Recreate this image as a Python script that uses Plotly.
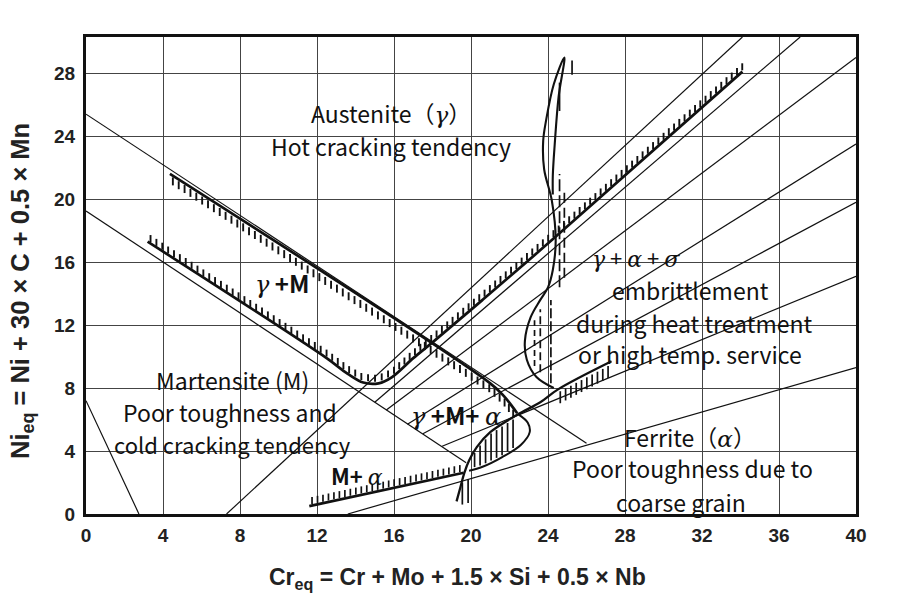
import numpy as np
import plotly.graph_objects as go

# ---------------- data ----------------
x_ticks = list(range(0, 41, 4))
y_ticks = list(range(0, 29, 4))
x_range = [0, 40]
y_range = [0, 30.3]

# iso-ferrite lines (start point -> end point)
ferrite_labels = ["0%", "5%", "10%", "20%", "40%", "80%", "100%"]
ferrite_x0 = [7.3, 15.0, 15.6, 16.7, 17.5, 18.5, 13.6]
ferrite_y0 = [0.0, 7.1, 6.6, 5.7, 5.1, 4.3, 0.0]
ferrite_x1 = [34.1, 37.1, 40.0, 40.0, 40.0, 40.0, 40.0]
ferrite_y1 = [30.3, 30.3, 29.0, 23.5, 19.8, 15.1, 9.3]
label_x = [34.4, 37.35, 41.35, 41.35, 41.35, 41.25, 41.9]
label_y = [31.4, 31.4, 28.95, 23.4, 19.75, 15.6, 9.4]

# thin martensite boundary lines
thin1_x = [0.0, 26.0]
thin1_y = [25.4, 4.5]
thin2_x = [0.0, 19.75]
thin2_y = [19.25, 3.25]
thin3_x = [0.0, 2.75]
thin3_y = [7.2, 0.0]

# hatched boundary: gamma / gamma+M (hatching below)
gm_x = [4.36, 21.0, 21.7, 22.4]
gm_y = [21.6, 8.3, 7.5, 6.4]

# hatched boundary: martensite / austenite limits (hatching above)
am_x = [3.2, 12.5, 13.6, 14.4, 15.2, 15.9, 17.0, 18.0, 20.6, 24.2, 34.1]
am_y = [17.3, 9.9, 8.9, 8.35, 8.3, 8.7, 9.9, 10.9, 13.6, 17.4, 28.1]

# hatched boundary: M+alpha (hatching above)
ma_x = [11.6, 19.62]
ma_y = [0.5, 2.62]

# ferrite boundary S-curve
s_x = [19.25, 19.45, 19.65, 19.9, 20.3, 21.0, 22.4, 23.6, 24.5, 27.3]
s_y = [0.8, 1.7, 2.6, 3.4, 4.25, 5.2, 6.3, 7.1, 7.9, 9.7]
# lower rim of the hatched lens under the S-curve
lens_x = [19.9, 20.6, 21.6, 22.6, 23.05, 22.95, 22.5]
lens_y = [2.75, 3.0, 3.6, 4.4, 5.2, 5.8, 6.3]

# sigma boundary (closed at top)
sig_x = [24.3, 23.4, 22.9, 22.8, 23.1, 23.6, 24.0, 24.25, 24.4, 24.2, 23.8, 23.75,
         23.9, 24.3, 24.85, 24.55, 24.35, 24.25, 24.25]
sig_y = [8.0, 8.7, 9.8, 11.0, 12.5, 13.6, 14.4, 15.5, 17.4, 19.9, 21.9, 23.7,
         25.0, 27.3, 29.0, 26.5, 23.5, 21.5, 20.3]

# ---------------- helpers ----------------
PX_X = 770 / (x_range[1] - x_range[0])
PX_Y = 477 / (y_range[1] - y_range[0])


def hatch(xs, ys, step_px, len_px, side, gap_px=1.5):
    xs = np.asarray(xs, float)
    ys = np.asarray(ys, float)
    seg = np.hypot(np.diff(xs) * PX_X, np.diff(ys) * PX_Y)
    s = np.concatenate([[0.0], np.cumsum(seg)])
    t = np.arange(step_px / 2, s[-1], step_px)
    hx = np.interp(t, s, xs)
    hy = np.interp(t, s, ys)
    y0 = hy + side * gap_px / PX_Y
    y1 = hy + side * (gap_px + len_px) / PX_Y
    nan = np.full_like(hx, np.nan)
    return (np.column_stack([hx, hx, nan]).ravel(),
            np.column_stack([y0, y1, nan]).ravel())


def fill_hatch(top_x, top_y, bot_x, bot_y, step_px, gap_px=2.0):
    lo = max(min(top_x), min(bot_x))
    hi = min(max(top_x), max(bot_x))
    xs = np.arange(lo + step_px / PX_X, hi, step_px / PX_X)
    yt = np.interp(xs, top_x, top_y)
    yb = np.interp(xs, bot_x[:5], bot_y[:5])
    X, Y = [], []
    for x, a, b in zip(xs, yt, yb):
        a2 = a - gap_px / PX_Y
        b2 = b + gap_px / PX_Y
        if a2 > b2:
            X += [x, x, None]
            Y += [a2, b2, None]
    return X, Y


fig = go.Figure()


def line(x, y, w=1.2, color="#111", dash=None, shape="linear"):
    fig.add_trace(go.Scatter(x=x, y=y, mode="lines", hoverinfo="skip",
                             line=dict(color=color, width=w, dash=dash, shape=shape)))


# iso-ferrite lines
for i in range(len(ferrite_labels)):
    line([ferrite_x0[i], ferrite_x1[i]], [ferrite_y0[i], ferrite_y1[i]], w=1.2)

line(thin1_x, thin1_y, w=1.2)
line(thin2_x, thin2_y, w=1.2)
line(thin3_x, thin3_y, w=1.2)

# hatching
hx, hy = hatch(gm_x, gm_y, 7.0, 8.0, -1)
line(hx, hy, w=1.9)
hx, hy = hatch(am_x, am_y, 7.0, 7.0, +1)
line(hx, hy, w=1.9)
hx, hy = hatch(ma_x, ma_y, 5.6, 7.0, +1)
line(hx, hy, w=1.7)
hx, hy = hatch(s_x[8:], s_y[8:], 6.0, 12.0, -1, gap_px=3)
line(hx, hy, w=1.7)
hx, hy = fill_hatch(s_x[3:7], s_y[3:7], lens_x, lens_y, 5.5)
line(hx, hy, w=1.7)
line([19.55, 19.55, None, 19.85, 19.85], [0.6, 2.0, None, 0.7, 2.2], w=1.7)

# sigma-zone dashes
line([24.6, 24.6], [14.4, 21.6], w=1.7, dash="12px,4px")
line([24.85, 24.85], [15.0, 20.5], w=1.7, dash="10px,5px")
line([24.6, 24.6], [25.6, 27.4], w=1.7)
line([25.25, 25.25], [27.9, 28.8], w=1.7)
line([24.15, 24.15], [8.3, 13.6], w=1.7, dash="10px,3px")
line([23.6, 23.6], [9.0, 13.0], w=1.7, dash="8px,4px")
line([23.3, 23.3], [9.4, 12.3], w=1.7, dash="6px,4px")

# thick boundaries
line(gm_x, gm_y, w=2.7, shape="spline")
line(am_x, am_y, w=2.7, shape="spline")
line(ma_x, ma_y, w=2.7)
line(s_x, s_y, w=2.3, shape="spline")
line(lens_x, lens_y, w=2.0, shape="spline")
line(sig_x, sig_y, w=2.1, shape="spline")

# ---------------- text ----------------
TXT = "Noto Sans CJK JP"
GK = "font-family:DejaVu Serif"


def note(x, y, text, size=23, **kw):
    fig.add_annotation(x=x, y=y, text=text, showarrow=False,
                       font=dict(family=TXT, size=size, color="#111"), **kw)


g = f'<span style="{GK}"><i>γ</i></span>'
a = f'<span style="{GK}"><i>α</i></span>'
sg = f'<span style="{GK}"><i>σ</i></span>'

note(15.85, 25.5, f"Austenite（{g}）")
note(15.85, 23.4, "Hot cracking tendency")
note(10.2, 14.7, f"{g} <b>+M</b>", size=24)
note(7.6, 8.5, "Martensite (M)")
note(7.5, 6.45, "Poor toughness and")
note(7.6, 4.42, "cold cracking tendency", size=22)
note(19.2, 6.3, f"{g} <b>+M+</b> {a}", size=24)
note(14.1, 2.5, f"<b>M+</b> {a}", size=22)
note(28.55, 16.35, f"{g} + {a} + {sg}", size=22)
note(31.4, 14.25, "embrittlement")
note(31.6, 12.15, "during heat treatment")
note(31.4, 10.15, "or high temp. service")
note(31.4, 4.9, f"Ferrite（{a}）")
note(31.5, 2.9, "Poor toughness due to")
note(30.9, 0.75, "coarse grain")

for lab, lx, ly in zip(ferrite_labels, label_x, label_y):
    fig.add_annotation(x=lx, y=ly, text=lab, showarrow=False,
                       font=dict(family="Liberation Sans", size=18, color="#222"))

fig.add_annotation(xref="paper", yref="paper", x=(457 - 86) / 770, y=(514 - 578) / 477,
                   xanchor="center", yanchor="middle",
                   text="Cr<sub>eq</sub> = Cr + Mo + 1.5 × Si + 0.5 × Nb",
                   showarrow=False,
                   font=dict(family="Liberation Sans", size=23, color="#222", weight="bold"))
fig.add_annotation(xref="paper", yref="paper", x=(22 - 86) / 770, y=(514 - 291) / 477,
                   xanchor="center", yanchor="middle",
                   text="Ni<sub>eq</sub> = Ni + 30 × C + 0.5 × Mn", textangle=-90,
                   showarrow=False,
                   font=dict(family="Liberation Sans", size=25.5, color="#222", weight="bold"))

TICK = dict(family="Liberation Sans", size=19, color="#222", weight="bold")
fig.update_xaxes(range=x_range, tickvals=x_ticks, showgrid=True, gridcolor="#444",
                 gridwidth=1.3, showline=True, linecolor="#111", linewidth=3, mirror=True,
                 zeroline=False, ticks="", tickfont=TICK, ticklabelstandoff=2)
fig.update_yaxes(range=y_range, tickvals=y_ticks, showgrid=True, gridcolor="#444",
                 gridwidth=1.3, showline=True, linecolor="#111", linewidth=3, mirror=True,
                 zeroline=False, ticks="", tickfont=TICK, ticklabelstandoff=4)
fig.update_layout(width=917, height=594, margin=dict(l=86, r=61, t=37, b=80),
                  plot_bgcolor="white", paper_bgcolor="white", showlegend=False)

fig.write_html("out.html")
